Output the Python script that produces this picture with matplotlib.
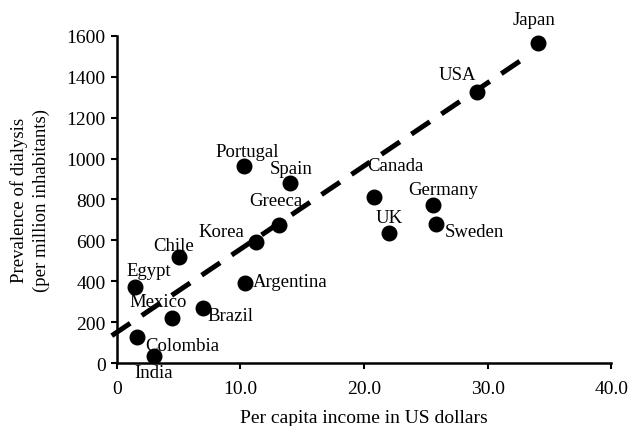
import matplotlib
matplotlib.use("Agg")
import matplotlib.pyplot as plt
import numpy as np

plt.rcParams['font.family'] = ['Liberation Serif', 'DejaVu Serif']
plt.rcParams['lines.scale_dashes'] = False

countries = ["Japan", "USA", "Canada", "Germany", "UK", "Sweden", "Portugal", "Spain",
             "Greeca", "Korea", "Chile", "Egypt", "Argentina", "Mexico", "Brazil",
             "Colombia", "India"]
income = [34.1, 29.1, 20.8, 25.6, 22.0, 25.8, 10.3, 14.0,
          13.1, 11.3, 5.05, 1.5, 10.4, 4.5, 7.0, 1.6, 3.0]
prevalence = [1565, 1325, 812, 773, 636, 680, 962, 880,
              675, 592, 518, 372, 392, 220, 270, 128, 32]

trend_intercept = 150
trend_slope = 40.7
trend_range = [-0.4, 32.9]

xticks = [0, 10, 20, 30, 40]
xticklabels = ["0", "10.0", "20.0", "30.0", "40.0"]
yticks = [0, 200, 400, 600, 800, 1000, 1200, 1400, 1600]

# label offsets in pixels (dx, dy) and horizontal alignment
label_style = {
    "Japan": (-4, 24, "center"), "USA": (-19, 18, "center"), "Canada": (21, 32, "center"),
    "Germany": (10, 15, "center"), "UK": (0, 16, "center"), "Sweden": (9, -7, "left"),
    "Portugal": (3, 15, "center"), "Spain": (1, 15, "center"), "Greeca": (-3, 25, "center"),
    "Korea": (-35, 10, "center"), "Chile": (-6, 12, "center"), "Egypt": (13, 16, "center"),
    "Argentina": (7, 1, "left"), "Mexico": (-14, 17, "center"), "Brazil": (4, -8, "left"),
    "Colombia": (46, -9, "center"), "India": (0, -16, "center"),
}

fig = plt.figure(figsize=(6.31, 4.27), dpi=100)
ax = fig.add_axes([0.185, 0.1475, 0.784, 0.766])

tx = np.array(trend_range)
ax.plot(tx, trend_intercept + trend_slope * tx, color="black", lw=3.6,
        linestyle=(0, (16, 10)), clip_on=False, dash_capstyle="butt")

ax.scatter(income, prevalence, s=110, color="black", zorder=3, clip_on=False)

for c, x, y in zip(countries, income, prevalence):
    dx, dy, ha = label_style[c]
    ax.annotate(c, (x, y), xytext=(dx, dy), textcoords="offset pixels",
                ha=ha, va="center", fontsize=13.5)

ax.set_xlim(0, 40)
ax.set_ylim(0, 1600)
ax.set_xticks(xticks)
ax.set_xticklabels(xticklabels)
ax.set_yticks(yticks)
ax.tick_params(direction="out", length=4, width=1.5, labelsize=14, pad=4)
ax.tick_params(axis="x", pad=8)
for s in ["top", "right"]:
    ax.spines[s].set_visible(False)
for s in ["left", "bottom"]:
    ax.spines[s].set_linewidth(1.8)

ax.set_xlabel("Per capita income in US dollars", fontsize=14, labelpad=9)
ax.set_ylabel("Prevalence of dialysis\n(per million inhabitants)", fontsize=13.5,
              linespacing=1.3, labelpad=12)

fig.savefig("out.png", dpi=100)
